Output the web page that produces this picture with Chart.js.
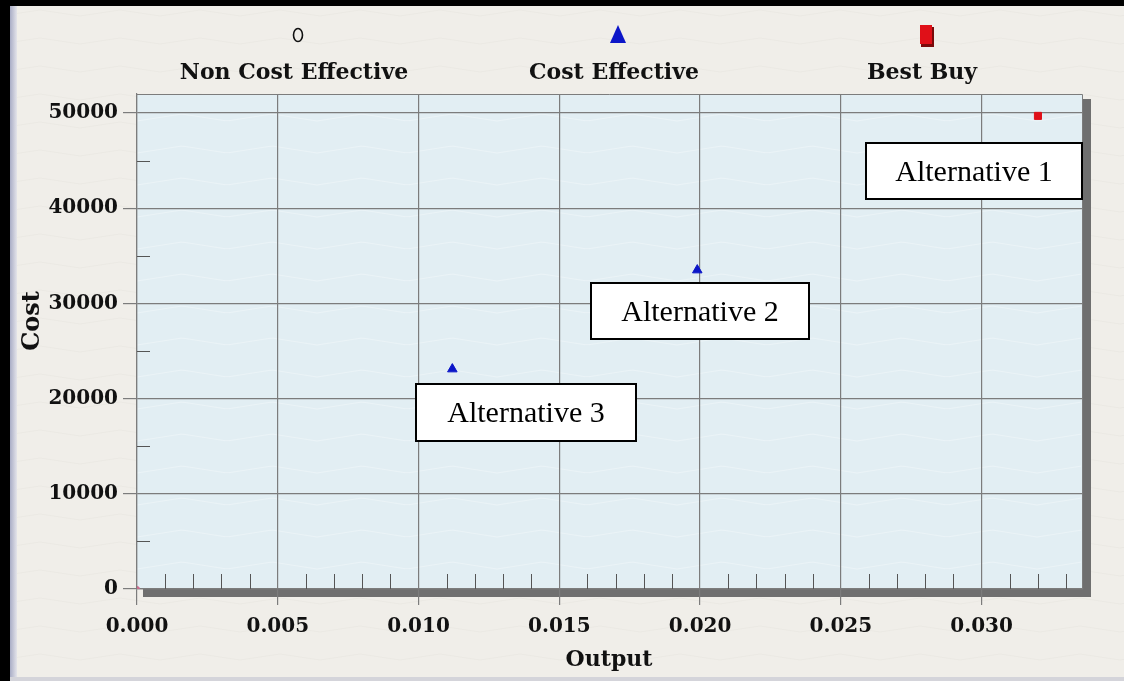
<!DOCTYPE html>
<html><head><meta charset="utf-8">
<script src="https://cdn.jsdelivr.net/npm/chart.js@4/dist/chart.umd.min.js"></script>
<style>html,body{margin:0;padding:0;background:#efede7;overflow:hidden}#wrap{width:1124px;height:681px;position:relative}</style>
</head><body><div id="wrap"><canvas id="c" width="1124" height="681"></canvas></div>
<script>
// ---- data ----
const categories = ['Alternative 1', 'Alternative 2', 'Alternative 3'];
const outputValues = [0.0320, 0.0199, 0.0112];
const costValues = [49700, 33500, 23100];
const categoryGroups = ['Best Buy', 'Cost Effective', 'Cost Effective'];
const seriesNames = ['Non Cost Effective', 'Cost Effective', 'Best Buy'];
const baselineOutput = [0];
const baselineCost = [0];
const xTickLabels = ['0.000', '0.005', '0.010', '0.015', '0.020', '0.025', '0.030'];
const yTickLabels = ['0', '10000', '20000', '30000', '40000', '50000'];
const xAxisTitle = 'Output';
const yAxisTitle = 'Cost';

// ---- styles ----
const FONT = "'DejaVu Serif', serif";
const GRID = '#7c7c7c';
const seriesStyle = {
  'Non Cost Effective': {pointStyle: 'circle', backgroundColor: 'rgba(0,0,0,0)', borderColor: '#111', radius: 4},
  'Cost Effective': {pointStyle: 'triangle', backgroundColor: '#0c16c8', borderColor: '#0c16c8', radius: 5.5},
  'Best Buy': {pointStyle: 'rect', backgroundColor: '#e01018', borderColor: '#e01018', radius: 5}
};
const labelBoxes = [
  {dx: -173, dy: 26, w: 218, h: 58},
  {dx: -107, dy: 12, w: 220, h: 58},
  {dx: -37, dy: 14, w: 222, h: 59}
];
const legendCenters = [294, 614, 922];

const datasets = seriesNames.map(name => {
  const st = seriesStyle[name];
  const data = [];
  categories.forEach((c, i) => {
    if (categoryGroups[i] === name) data.push({x: outputValues[i], y: costValues[i], name: c});
  });
  return {
    label: name, data, showLine: false,
    pointStyle: st.pointStyle, pointRadius: st.radius, pointHoverRadius: st.radius,
    backgroundColor: st.backgroundColor, borderColor: st.borderColor, borderWidth: 1
  };
});
datasets.push({
  label: 'Baseline', legendHidden: true,
  data: baselineOutput.map((x, i) => ({x, y: baselineCost[i]})),
  pointStyle: 'circle', pointRadius: 2.5, backgroundColor: '#c86c8c', borderColor: '#c86c8c', borderWidth: 1
});

const decor = {
  id: 'decor',
  beforeDraw(chart) {
    const {ctx, chartArea: a, width, height} = chart;
    ctx.save();
    ctx.fillStyle = '#f0eee9';
    ctx.fillRect(0, 0, width, height);
    // faint lace texture
    ctx.strokeStyle = 'rgba(160,150,140,0.06)';
    ctx.lineWidth = 1;
    for (let yy = 10; yy < height; yy += 28) {
      ctx.beginPath();
      for (let xx = 0; xx <= width; xx += 4) {
        const yv = yy + 6 * Math.abs(((xx / 40) % 2) - 1);
        if (xx === 0) ctx.moveTo(xx, yv); else ctx.lineTo(xx, yv);
      }
      ctx.stroke();
    }
    // shadow
    ctx.fillStyle = '#6f6f6f';
    ctx.fillRect(a.right, a.top + 5, 8, a.bottom - a.top + 3);
    ctx.fillRect(a.left + 6, a.bottom, a.right - a.left + 2, 8);
    // plot area
    ctx.fillStyle = '#e2eef3';
    ctx.fillRect(a.left, a.top, a.right - a.left, a.bottom - a.top);
    ctx.strokeStyle = 'rgba(255,255,255,0.30)';
    for (let yy = a.top + 20; yy < a.bottom; yy += 32) {
      ctx.beginPath();
      for (let xx = a.left; xx <= a.right; xx += 4) {
        const yv = yy + 7 * Math.abs((((xx - a.left) / 45) % 2) - 1);
        if (xx === a.left) ctx.moveTo(xx, yv); else ctx.lineTo(xx, yv);
      }
      ctx.stroke();
    }
    ctx.restore();
  },
  beforeDatasetsDraw(chart) {
    const {ctx, chartArea: a, scales} = chart;
    ctx.save();
    ctx.strokeStyle = '#555';
    ctx.lineWidth = 1;
    // minor ticks y
    for (let i = 0; i < 5; i++) {
      const y = Math.round(scales.y.getPixelForValue(5000 + i * 10000)) + 0.5;
      ctx.beginPath(); ctx.moveTo(a.left, y); ctx.lineTo(a.left + 13, y); ctx.stroke();
    }
    // minor ticks x
    for (let i = 1; i <= 33; i++) {
      if (i % 5 === 0) continue;
      const x = Math.round(scales.x.getPixelForValue(i * 0.001)) + 0.5;
      ctx.beginPath(); ctx.moveTo(x, a.bottom); ctx.lineTo(x, a.bottom - 15); ctx.stroke();
    }
    // plot border top/right
    ctx.strokeStyle = GRID;
    ctx.beginPath();
    ctx.moveTo(a.left, a.top + 0.5); ctx.lineTo(a.right - 0.5, a.top + 0.5); ctx.lineTo(a.right - 0.5, a.bottom);
    ctx.stroke();
    ctx.restore();
  },
  afterDraw(chart) {
    const {ctx, chartArea: a, scales} = chart;
    ctx.save();
    // annotation boxes
    categories.forEach((name, i) => {
      const px = scales.x.getPixelForValue(outputValues[i]);
      const py = scales.y.getPixelForValue(costValues[i]);
      const b = labelBoxes[i];
      const x0 = Math.round(px + b.dx), y0 = Math.round(py + b.dy);
      ctx.fillStyle = '#fff';
      ctx.fillRect(x0, y0, b.w, b.h);
      ctx.strokeStyle = '#000'; ctx.lineWidth = 2;
      ctx.strokeRect(x0 + 1, y0 + 1, b.w - 2, b.h - 2);
      ctx.fillStyle = '#000';
      ctx.font = "30px 'Liberation Serif', serif";
      ctx.textAlign = 'center'; ctx.textBaseline = 'middle';
      ctx.fillText(name, x0 + b.w / 2, y0 + b.h / 2 + 2);
    });
    // axis titles
    ctx.fillStyle = '#111';
    ctx.font = "bold 22px " + FONT;
    ctx.textAlign = 'center'; ctx.textBaseline = 'middle';
    ctx.fillText(xAxisTitle, 609, 660);
    ctx.save();
    ctx.font = "bold 24px " + FONT;
    ctx.translate(33, 321); ctx.rotate(-Math.PI / 2);
    ctx.fillText(yAxisTitle, 0, 0);
    ctx.restore();
    // legend
    const legendSets = chart.data.datasets.filter(d => !d.legendHidden);
    legendSets.forEach((d, i) => {
      const cx = legendCenters[i];
      ctx.fillStyle = '#111';
      ctx.font = "bold 22px " + FONT;
      ctx.textAlign = 'center'; ctx.textBaseline = 'middle';
      ctx.fillText(d.label, cx, 73);
      const mx = cx + 4, my = 35;
      if (d.pointStyle === 'circle') {
        ctx.strokeStyle = '#111'; ctx.lineWidth = 1.6;
        ctx.beginPath(); ctx.ellipse(mx, my, 4.5, 6.5, 0, 0, Math.PI * 2); ctx.stroke();
      } else if (d.pointStyle === 'triangle') {
        ctx.fillStyle = d.backgroundColor;
        ctx.beginPath(); ctx.moveTo(mx, my - 10); ctx.lineTo(mx + 8, my + 8); ctx.lineTo(mx - 8, my + 8); ctx.closePath(); ctx.fill();
      } else {
        ctx.fillStyle = '#7a0a0a';
        ctx.fillRect(mx - 5, my - 8, 13, 20);
        ctx.fillStyle = d.backgroundColor;
        ctx.fillRect(mx - 6, my - 10, 12, 19);
      }
    });
    // window frame
    ctx.fillStyle = '#000';
    ctx.fillRect(0, 0, 1124, 6);
    ctx.fillRect(0, 0, 10, 681);
    const g = ctx.createLinearGradient(10, 0, 17, 0);
    g.addColorStop(0, '#a9adc6'); g.addColorStop(1, '#e4e4ea');
    ctx.fillStyle = g;
    ctx.fillRect(10, 6, 7, 675);
    ctx.fillStyle = '#d4d4da';
    ctx.fillRect(10, 677, 1114, 4);
    ctx.restore();
  }
};

new Chart(document.getElementById('c'), {
  type: 'scatter',
  data: {datasets},
  plugins: [decor],
  options: {
    responsive: false, animation: false, devicePixelRatio: 1,
    layout: {padding: {top: 94, right: 41, left: 0, bottom: 0}},
    plugins: {legend: {display: false}, tooltip: {enabled: false}},
    scales: {
      x: {
        type: 'linear', min: 0, max: 0.0336,
        afterFit(s) { s.height = 92; },
        afterBuildTicks(s) { s.ticks = xTickLabels.map(t => ({value: parseFloat(t)})); },
        ticks: {
          callback: (v, i) => xTickLabels[i], color: '#111', padding: 10,
          font: {family: FONT, weight: 'bold', size: 20}, maxRotation: 0, autoSkip: false
        },
        grid: {color: GRID, lineWidth: 1.2, tickLength: 16, drawTicks: true},
        border: {display: true, color: GRID, width: 1.2}
      },
      y: {
        type: 'linear', min: 0, max: 52000,
        afterFit(s) { s.width = 137; },
        afterBuildTicks(s) { s.ticks = yTickLabels.map(t => ({value: parseFloat(t)})); },
        ticks: {
          callback: (v, i) => yTickLabels[i], color: '#111', padding: 5,
          font: {family: FONT, weight: 'bold', size: 20}, autoSkip: false
        },
        grid: {color: GRID, lineWidth: 1.2, tickLength: 14, drawTicks: true},
        border: {display: true, color: GRID, width: 1.2}
      }
    }
  }
});
</script></body></html>
